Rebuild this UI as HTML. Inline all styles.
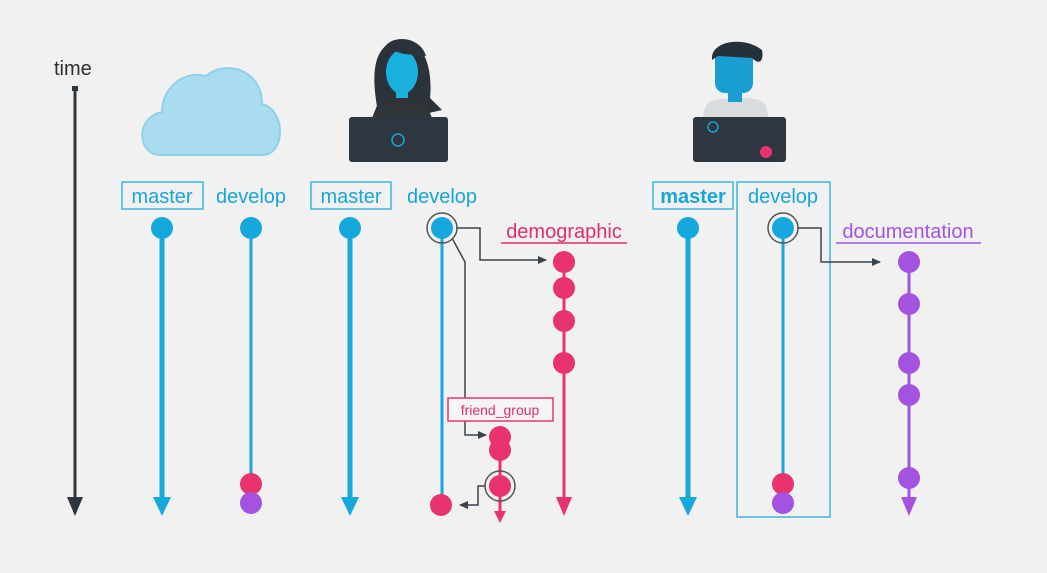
<!DOCTYPE html>
<html><head><meta charset="utf-8"><style>
html,body{margin:0;padding:0;background:#f1f1f1;}
svg{display:block;font-family:"Liberation Sans","DejaVu Sans",sans-serif;}
</style></head><body>
<svg width="1047" height="573" viewBox="0 0 1047 573" xmlns="http://www.w3.org/2000/svg">
<defs>
<marker id="ad" markerWidth="10" markerHeight="10" refX="8" refY="5" orient="auto" markerUnits="userSpaceOnUse"><path d="M0,1 L9,5 L0,9 Z" fill="#3a424b"/></marker>
</defs>
<rect width="1047" height="573" fill="#f1f1f1"/>
<!-- time -->
<text x="54" y="75" font-size="20" fill="#2b2f33">time</text>
<line x1="75" y1="89" x2="75" y2="500" stroke="#2e3640" stroke-width="3"/>
<rect x="72" y="86" width="6" height="5" fill="#2e3640"/>
<path d="M67,497 L83,497 L75,516 Z" fill="#2e3640"/>
<!-- cloud -->
<path d="M160,155 C138,155 134,118 162,112 C162,86 186,70 206,76 C224,60 262,68 262,104 C286,110 286,155 262,155 Z" fill="#a9dcef" stroke="#8fd0ea" stroke-width="2"/>
<!-- woman -->
<path d="M378,112 C370,70 374,42 402,40 C430,42 432,80 430,98 L442,110 L420,115 Z" fill="#2b323a"/>
<ellipse cx="402" cy="72" rx="16" ry="22" fill="#1ab0dd"/>
<path d="M384,48 C392,34 420,36 426,56 L404,54 Z" fill="#2b323a"/>
<rect x="396" y="90" width="12" height="10" fill="#1ab0dd"/>
<path d="M372,118 L380,98 L424,98 L432,118 Z" fill="#2f3438"/>
<rect x="349" y="117" width="99" height="45" rx="3" fill="#2e3640"/>
<circle cx="398" cy="140" r="6" fill="none" stroke="#1aa8d8" stroke-width="1.5"/>
<!-- man -->
<path d="M703,120 C703,100 712,98 738,98 C762,98 768,100 768,120 Z" fill="#d9dcde"/>
<rect x="715" y="48" width="38" height="45" rx="10" fill="#1a9ed2"/>
<rect x="728" y="88" width="14" height="14" fill="#1a9ed2"/>
<path d="M712,60 C710,40 745,36 762,50 C764,60 760,66 752,58 L718,56 Z" fill="#263038"/>
<rect x="693" y="117" width="93" height="45" rx="3" fill="#2e3640"/>
<circle cx="713" cy="127" r="5" fill="none" stroke="#1a9ed2" stroke-width="1.5"/>
<circle cx="766" cy="152" r="6" fill="#e8336e"/>
<!-- labels -->
<g font-size="20" fill="#17a6d8">
<rect x="122" y="182" width="81" height="27" fill="none" stroke="#3cb6e0" stroke-width="1.5"/>
<text x="162" y="203" text-anchor="middle">master</text>
<text x="251" y="203" text-anchor="middle">develop</text>
<rect x="311" y="182" width="80" height="27" fill="none" stroke="#3cb6e0" stroke-width="1.5"/>
<text x="351" y="203" text-anchor="middle">master</text>
<text x="442" y="203" text-anchor="middle">develop</text>
<rect x="653" y="182" width="80" height="27" fill="none" stroke="#3cb6e0" stroke-width="1.5"/>
<text x="693" y="203" text-anchor="middle" font-weight="bold">master</text>
<rect x="737" y="182" width="93" height="335" fill="none" stroke="#3cb6e0" stroke-width="1.5"/>
<text x="783" y="203" text-anchor="middle">develop</text>
</g>
<text x="564" y="238" text-anchor="middle" font-size="20" fill="#e02e68">demographic</text>
<line x1="501" y1="243" x2="627" y2="243" stroke="#e02e68" stroke-width="1.5"/>
<text x="908" y="238" text-anchor="middle" font-size="20" fill="#a353df">documentation</text>
<line x1="836" y1="243" x2="981" y2="243" stroke="#a353df" stroke-width="1.5"/>
<!-- column 1 -->
<line x1="162" y1="228" x2="162" y2="500" stroke="#16a8dd" stroke-width="5"/>
<path d="M153,497 L171,497 L162,516 Z" fill="#16a8dd"/>
<circle cx="162" cy="228" r="11" fill="#16a8dd"/>
<line x1="251" y1="228" x2="251" y2="484" stroke="#16a8dd" stroke-width="3"/>
<circle cx="251" cy="228" r="11" fill="#16a8dd"/>
<circle cx="251" cy="484" r="11" fill="#e8336e"/>
<circle cx="251" cy="503" r="11" fill="#a353df"/>
<!-- column 2 -->
<line x1="350" y1="228" x2="350" y2="500" stroke="#16a8dd" stroke-width="5"/>
<path d="M341,497 L359,497 L350,516 Z" fill="#16a8dd"/>
<circle cx="350" cy="228" r="11" fill="#16a8dd"/>
<line x1="442" y1="228" x2="442" y2="505" stroke="#16a8dd" stroke-width="3"/>
<polyline points="456,228 480,228 480,260 546,260" fill="none" stroke="#3a424b" stroke-width="1.5" marker-end="url(#ad)"/>
<polyline points="452,238 465,262 465,435 486,435" fill="none" stroke="#3a424b" stroke-width="1.5" marker-end="url(#ad)"/>
<circle cx="442" cy="228" r="15" fill="none" stroke="#555" stroke-width="1.5"/>
<circle cx="442" cy="228" r="11" fill="#16a8dd"/>
<circle cx="441" cy="505" r="11" fill="#e8336e"/>
<line x1="564" y1="262" x2="564" y2="500" stroke="#e8336e" stroke-width="3"/>
<path d="M556,497 L572,497 L564,516 Z" fill="#e8336e"/>
<circle cx="564" cy="262" r="11" fill="#e8336e"/>
<circle cx="564" cy="288" r="11" fill="#e8336e"/>
<circle cx="564" cy="321" r="11" fill="#e8336e"/>
<circle cx="564" cy="363" r="11" fill="#e8336e"/>
<rect x="448" y="398" width="105" height="23" fill="#f5f5f5" stroke="#e8336e" stroke-width="1.5"/>
<text x="500" y="415" text-anchor="middle" font-size="14" fill="#e02e68">friend_group</text>
<line x1="500" y1="437" x2="500" y2="512" stroke="#e8336e" stroke-width="3"/>
<path d="M494,511 L506,511 L500,523 Z" fill="#e8336e"/>
<circle cx="500" cy="437" r="11" fill="#e8336e"/>
<circle cx="500" cy="450" r="11" fill="#e8336e"/>
<polyline points="486,486 478,486 478,505 460,505" fill="none" stroke="#3a424b" stroke-width="1.5" marker-end="url(#ad)"/>
<circle cx="500" cy="486" r="15" fill="none" stroke="#555" stroke-width="1.5"/>
<circle cx="500" cy="486" r="11" fill="#e8336e"/>
<!-- column 3 -->
<line x1="688" y1="228" x2="688" y2="500" stroke="#16a8dd" stroke-width="5"/>
<path d="M679,497 L697,497 L688,516 Z" fill="#16a8dd"/>
<circle cx="688" cy="228" r="11" fill="#16a8dd"/>
<line x1="783" y1="228" x2="783" y2="484" stroke="#16a8dd" stroke-width="3"/>
<polyline points="797,228 821,228 821,262 880,262" fill="none" stroke="#3a424b" stroke-width="1.5" marker-end="url(#ad)"/>
<circle cx="783" cy="228" r="15" fill="none" stroke="#555" stroke-width="1.5"/>
<circle cx="783" cy="228" r="11" fill="#16a8dd"/>
<circle cx="783" cy="484" r="11" fill="#e8336e"/>
<circle cx="783" cy="503" r="11" fill="#a353df"/>
<line x1="909" y1="262" x2="909" y2="500" stroke="#a353df" stroke-width="3"/>
<path d="M901,497 L917,497 L909,516 Z" fill="#a353df"/>
<circle cx="909" cy="262" r="11" fill="#a353df"/>
<circle cx="909" cy="304" r="11" fill="#a353df"/>
<circle cx="909" cy="363" r="11" fill="#a353df"/>
<circle cx="909" cy="395" r="11" fill="#a353df"/>
<circle cx="909" cy="478" r="11" fill="#a353df"/>
</svg>
</body></html>
